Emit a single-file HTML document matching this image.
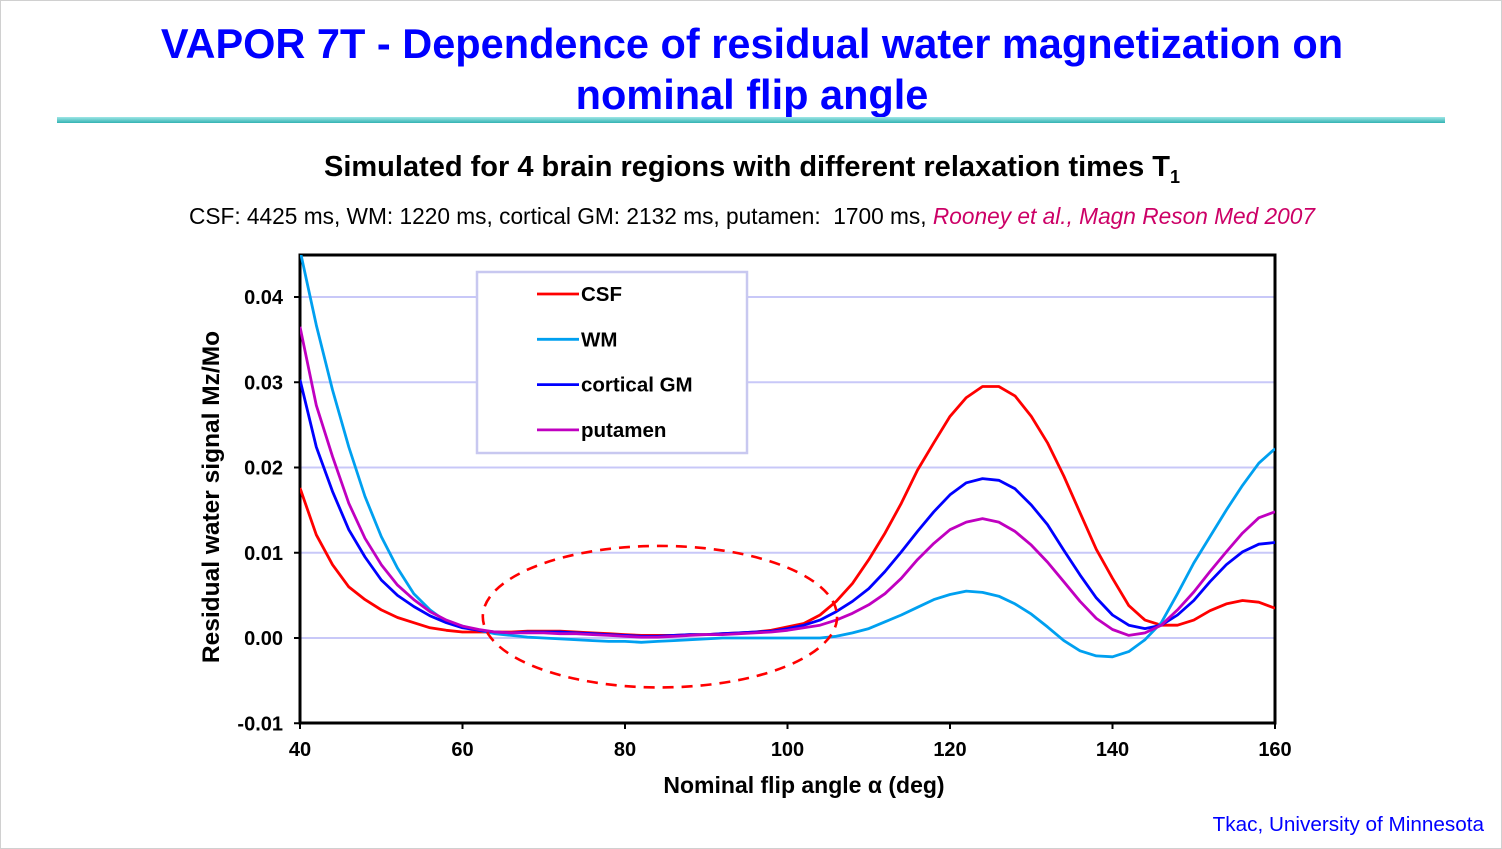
<!DOCTYPE html>
<html><head><meta charset="utf-8"><style>
html,body{margin:0;padding:0;background:#fff}
#slide{position:relative;width:1500px;height:847px;border:1px solid #d0d0d0;overflow:hidden;font-family:"Liberation Sans",Arial,sans-serif}
.t{position:absolute;white-space:nowrap}
</style></head><body>
<div id="slide">
<div class="t" style="left:0;width:1502px;top:17px;text-align:center;color:#0000ff;font-weight:bold;font-size:41.5px;line-height:51px">VAPOR 7T - Dependence of residual water magnetization on<br>nominal flip angle</div>
<div style="position:absolute;left:56px;top:116px;width:1388px;height:6px;background:linear-gradient(#9ee6e6,#33b3b3)"></div>
<div class="t" style="left:0;width:1502px;top:150px;text-align:center;font-weight:bold;font-size:29px">Simulated for 4 brain regions with different relaxation times T<sub style="font-size:18px">1</sub></div>
<div class="t" style="left:0;width:1502px;top:202px;text-align:center;font-size:22.7px">CSF: 4425 ms, WM: 1220 ms, cortical GM: 2132 ms, putamen:&nbsp; 1700 ms, <i style="color:#cc0066">Rooney et al., Magn Reson Med 2007</i></div>
<div class="t" style="right:17px;top:812px;color:#0000ff;font-size:20.7px">Tkac, University of Minnesota</div>
<svg id="chart" width="1502" height="849" style="position:absolute;left:-1px;top:-1px"></svg>
</div>
<script>
const angles=[];for(let a=40;a<=160;a+=2)angles.push(a);
const csf=[17.6,12.1,8.6,6.0,4.5,3.3,2.4,1.8,1.2,0.9,0.7,0.7,0.7,0.7,0.8,0.8,0.8,0.7,0.6,0.5,0.4,0.3,0.3,0.3,0.4,0.4,0.5,0.6,0.7,0.9,1.3,1.7,2.7,4.3,6.4,9.2,12.3,15.8,19.7,22.9,26.0,28.2,29.5,29.5,28.4,26.0,22.9,19.0,14.7,10.4,7.0,3.8,2.1,1.5,1.5,2.1,3.2,4.0,4.4,4.2,3.5];
const wm=[45.5,36.7,29.1,22.4,16.6,11.9,8.2,5.2,3.3,1.9,1.4,0.9,0.5,0.3,0.1,0.0,-0.1,-0.2,-0.3,-0.4,-0.4,-0.5,-0.4,-0.3,-0.2,-0.1,0.0,0.0,0.0,0.0,0.0,0.0,0.0,0.2,0.6,1.1,1.9,2.7,3.6,4.5,5.1,5.5,5.35,4.9,4.0,2.8,1.3,-0.3,-1.5,-2.1,-2.2,-1.6,-0.2,1.8,5.2,8.8,11.9,15.0,17.9,20.5,22.2];
const gm=[30.3,22.4,17.2,12.7,9.5,6.8,5.0,3.7,2.6,1.8,1.2,0.9,0.7,0.6,0.7,0.7,0.7,0.6,0.5,0.4,0.3,0.2,0.2,0.3,0.4,0.4,0.5,0.6,0.7,0.8,1.1,1.5,2.1,3.1,4.3,5.8,7.8,10.1,12.5,14.8,16.8,18.2,18.7,18.5,17.5,15.6,13.3,10.3,7.4,4.7,2.7,1.5,1.1,1.5,2.7,4.4,6.6,8.6,10.1,11.0,11.2];
const put=[36.5,27.3,21.3,15.8,11.7,8.6,6.2,4.5,3.1,2.1,1.4,1.0,0.7,0.6,0.6,0.6,0.5,0.5,0.4,0.3,0.2,0.1,0.1,0.2,0.3,0.4,0.4,0.5,0.6,0.7,0.9,1.2,1.5,2.1,2.9,3.9,5.2,7.0,9.2,11.1,12.7,13.6,14.0,13.6,12.5,10.9,8.9,6.6,4.3,2.3,1.0,0.3,0.6,1.5,3.3,5.4,7.8,10.1,12.3,14.1,14.8];
const xTicks=[40,60,80,100,120,140,160];
const yTicks=[-0.01,0.00,0.01,0.02,0.03,0.04];
const yTickLabels=["-0.01","0.00","0.01","0.02","0.03","0.04"];
const seriesNames=["CSF","WM","cortical GM","putamen"];
const seriesColors=["#ff0000","#00a0f0","#0000ff","#c000c0"];
const series=[csf,wm,gm,put];
const ellipseCenter=[84.3,0.0025],ellipseRadii=[21.8,0.0083];

const X0=300,X1=1275,Y0=723,Ytop=255;
const xs=a=>X0+(a-40)*(X1-X0)/120;
const ys=v=>638-v*8525;
const NS="http://www.w3.org/2000/svg";
const svg=document.getElementById('chart');
function mk(tag,at,parent){const e=document.createElementNS(NS,tag);for(const k in at)e.setAttribute(k,at[k]);(parent||svg).appendChild(e);return e;}
yTicks.forEach(v=>{if(v>-0.005){const g=mk('line',{x1:X0,x2:X1,y1:ys(v),y2:ys(v),stroke:'#c8c8f8','stroke-width':2});

}});
const fr=mk('rect',{x:X0,y:Ytop,width:X1-X0,height:Y0-Ytop,fill:'none',stroke:'#000','stroke-width':3});


yTicks.forEach((v,i)=>{mk('line',{x1:X0-6,x2:X0,y1:ys(v),y2:ys(v),stroke:'#000','stroke-width':2});
const t=mk('text',{x:X0-17,y:ys(v)+7,'text-anchor':'end','font-size':20,'font-weight':'bold','font-family':'Liberation Sans, sans-serif'});
t.textContent=yTickLabels[i];

});
xTicks.forEach(a=>{mk('line',{x1:xs(a),x2:xs(a),y1:Y0,y2:Y0+6,stroke:'#000','stroke-width':2});
const t=mk('text',{x:xs(a),y:Y0+33,'text-anchor':'middle','font-size':20,'font-weight':'bold','font-family':'Liberation Sans, sans-serif'});
t.textContent=a;

});
const xt=mk('text',{x:804,y:793,'text-anchor':'middle','font-size':23,'font-weight':'bold','font-family':'Liberation Sans, sans-serif'});
xt.innerHTML='Nominal flip angle α (deg)';


const yt=mk('text',{x:0,y:0,'text-anchor':'middle','font-size':24.5,'font-weight':'bold','font-family':'Liberation Sans, sans-serif',transform:'translate(219,497) rotate(-90)'});
yt.textContent='Residual water signal Mz/Mo';


const clip=mk('clipPath',{id:'cp'});mk('rect',{x:X0,y:Ytop,width:X1-X0,height:Y0-Ytop},clip);
series.forEach((s,i)=>{const pts=angles.map((a,j)=>xs(a).toFixed(1)+','+ys(s[j]/1000).toFixed(1)).join(' ');
const p=mk('polyline',{points:pts,fill:'none',stroke:seriesColors[i],'stroke-width':2.8,'stroke-linejoin':'round','clip-path':'url(#cp)'});

});
const cx=xs(ellipseCenter[0]),cy=ys(ellipseCenter[1]);
const el=mk('ellipse',{cx:cx,cy:cy,rx:xs(ellipseCenter[0]+ellipseRadii[0])-cx,ry:cy-ys(ellipseCenter[1]+ellipseRadii[1]),fill:'none',stroke:'#ff0000','stroke-width':2.6,'stroke-dasharray':'11 8'});


const lg=mk('g',{});


mk('rect',{x:477,y:272,width:270,height:181,fill:'#fff',stroke:'#c8c8f0','stroke-width':2.5},lg);
seriesNames.forEach((n,i)=>{const y=294+i*45.3;
mk('line',{x1:537,x2:579,y1:y,y2:y,stroke:seriesColors[i],'stroke-width':2.8},lg);
const t=mk('text',{x:581,y:y+7,'font-size':20.5,'font-weight':'bold','font-family':'Liberation Sans, sans-serif'},lg);
t.textContent=n;

});
</script>
</body></html>
